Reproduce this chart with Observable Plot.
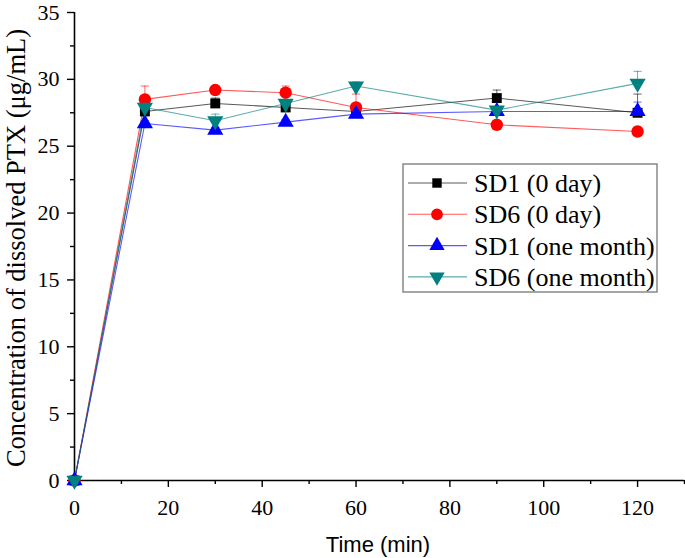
<!DOCTYPE html>
<html>
<head>
<meta charset="utf-8">
<script src="https://cdn.jsdelivr.net/npm/d3@7"></script>
<script src="https://cdn.jsdelivr.net/npm/@observablehq/plot@0.6"></script>
<style>
html,body{margin:0;padding:0;background:#fff;}
</style>
</head>
<body>
<div id="chart"></div>
<script>
const times = [0, 15, 30, 45, 60, 90, 120];
const seriesNames = ["SD1 (0 day)", "SD6 (0 day)", "SD1 (one month)", "SD6 (one month)"];
const sd1Day0 = [0, 27.6, 28.2, 27.9, 27.6, 28.6, 27.5];
const sd6Day0 = [0, 28.5, 29.2, 29.0, 27.9, 26.6, 26.1];
const sd1Month = [0, 26.7, 26.2, 26.8, 27.4, 27.6, 27.6];
const sd6Month = [0, 27.9, 26.9, 28.2, 29.5, 27.7, 29.7];
const sd1Day0Err = [0, 0.3, 0.4, 0.3, 0.3, 0.6, 1.4];
const sd6Day0Err = [0, 1.0, 0.3, 0.5, 1.0, 0.3, 0.2];
const sd1MonthErr = [0, 0.2, 0.2, 0.2, 0.2, 0.2, 0.7];
const sd6MonthErr = [0, 0.3, 0.5, 0.3, 0.3, 0.6, 0.9];
const yTicks = [0, 5, 10, 15, 20, 25, 30, 35];
const yMinorTicks = [2.5, 7.5, 12.5, 17.5, 22.5, 27.5, 32.5];
const xTicks = [0, 20, 40, 60, 80, 100, 120];
const xMinorTicks = [10, 30, 50, 70, 90, 110, 130];
const yTitle = "Concentration of dissolved PTX (\u03bcg/mL)";
const xTitle = "Time (min)";

const colors = ["#000000", "#ff0000", "#0000ff", "#008080"];
const SERIF = "'Liberation Serif', 'Times New Roman', serif";
const SANS = "'Liberation Sans', Arial, sans-serif";

function triangle(up) {
  return {
    draw(context, size) {
      const s = Math.sqrt(4 * size / Math.sqrt(3));
      const h = s * Math.sqrt(3) / 2;
      const k = up ? -1 : 1;
      context.moveTo(0, k * h * 2 / 3);
      context.lineTo(s / 2, -k * h / 3);
      context.lineTo(-s / 2, -k * h / 3);
      context.closePath();
    }
  };
}
const capSymbol = {
  draw(context, size) {
    const w = Math.sqrt(size);
    context.moveTo(-w, 0);
    context.lineTo(w, 0);
  }
};
const symbols = [d3.symbolSquare, d3.symbolCircle, triangle(true), triangle(false)];
const radii = [5.6, 6.2, 6.0, 6.0];

const values = [sd1Day0, sd6Day0, sd1Month, sd6Month];
const errs = [sd1Day0Err, sd6Day0Err, sd1MonthErr, sd6MonthErr];
const data = [];
seriesNames.forEach((name, i) => {
  times.forEach((t, j) => {
    data.push({series: name, idx: i, t, v: values[i][j], e: errs[i][j]});
  });
});
const errData = data.filter(d => d.e > 0);

const marks = [];
seriesNames.forEach((name, i) => {
  const rows = data.filter(d => d.idx === i);
  marks.push(Plot.line(rows, {x: "t", y: "v", stroke: colors[i], strokeWidth: 1.1, strokeOpacity: 0.65}));
});
seriesNames.forEach((name, i) => {
  const rows = errData.filter(d => d.idx === i);
  marks.push(Plot.ruleX(rows, {x: "t", y1: "v", y2: d => d.v + d.e, stroke: colors[i], strokeWidth: 1, strokeOpacity: 0.6}));
  marks.push(Plot.dot(rows, {x: "t", y: d => d.v + d.e, symbol: capSymbol, r: 2.3, stroke: colors[i], strokeWidth: 1, strokeOpacity: 0.6, fill: "none"}));
});
seriesNames.forEach((name, i) => {
  const rows = data.filter(d => d.idx === i);
  marks.push(Plot.dot(rows, {x: "t", y: "v", symbol: symbols[i], r: radii[i], fill: colors[i], stroke: "none"}));
});

const plot = Plot.plot({
  width: 685,
  height: 558,
  marginLeft: 74,
  marginRight: 1,
  marginTop: 12,
  marginBottom: 78,
  style: {fontFamily: SERIF, background: "#fff", overflow: "visible"},
  x: {domain: [0, 130]},
  y: {domain: [0, 35]},
  marks: [
    Plot.axisY({ticks: yMinorTicks, tickSize: 4, text: null, strokeWidth: 1.4, label: null}),
    Plot.axisY({ticks: yTicks, tickSize: 7, tickPadding: 8, strokeWidth: 1.4, fontSize: 22, fontFamily: SERIF, label: null}),
    Plot.axisX({ticks: xMinorTicks, tickSize: 4, text: null, strokeWidth: 1.4, label: null}),
    Plot.axisX({ticks: xTicks, tickSize: 7, tickPadding: 12, strokeWidth: 1.4, fontSize: 22, fontFamily: SERIF, label: null}),
    Plot.ruleX([0], {stroke: "#000", strokeWidth: 1.6}),
    Plot.ruleY([0], {stroke: "#000", strokeWidth: 1.6}),
    ...marks
  ]
});

document.getElementById("chart").appendChild(plot);

const svg = d3.select(plot);
svg.selectAll("g[aria-label='y-axis tick label'] text, g[aria-label='x-axis tick label'] text")
  .attr("font-family", SERIF).style("font-family", SERIF);

// y-axis title
svg.append("text")
  .attr("transform", "translate(16,248) rotate(-90)")
  .attr("dy", "0.35em")
  .attr("text-anchor", "middle")
  .attr("font-family", SERIF).style("font-family", SERIF)
  .attr("font-size", 26.5)
  .attr("fill", "#000")
  .text(yTitle);

// x-axis title (sans-serif)
svg.append("text")
  .attr("x", 378)
  .attr("y", 552)
  .attr("text-anchor", "middle")
  .attr("font-family", SANS).style("font-family", SANS)
  .attr("font-size", 22)
  .attr("fill", "#000")
  .text(xTitle);

// legend
const lg = svg.append("g").attr("aria-label", "legend");
lg.append("rect").attr("x", 403).attr("y", 164).attr("width", 254).attr("height", 128)
  .attr("fill", "#fff").attr("stroke", "#888").attr("stroke-width", 1.5);
seriesNames.forEach((name, i) => {
  const cy = 183 + i * 31.3;
  lg.append("line").attr("x1", 408).attr("x2", 467).attr("y1", cy).attr("y2", cy)
    .attr("stroke", colors[i]).attr("stroke-width", 1.1).attr("stroke-opacity", 0.65);
  lg.append("path").attr("transform", `translate(437,${cy})`)
    .attr("d", d3.symbol(symbols[i], Math.PI * radii[i] * radii[i] * 0.9)())
    .attr("fill", colors[i]);
  lg.append("text").attr("x", 474).attr("y", cy).attr("dy", "0.35em")
    .attr("text-anchor", "start")
    .attr("font-family", SERIF).style("font-family", SERIF).attr("font-size", 26)
    .attr("fill", "#000").text(name);
});
</script>
</body>
</html>
